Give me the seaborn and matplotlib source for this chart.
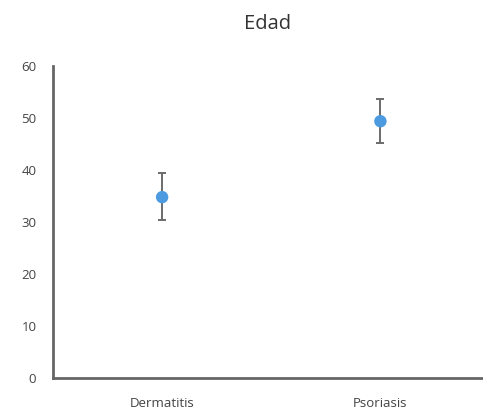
import numpy as np
import pandas as pd
import matplotlib.pyplot as plt
import seaborn as sns

grupos = ["Dermatitis", "Psoriasis"]
media = [34.8, 49.4]
err_sup = [4.6, 4.3]
err_inf = [4.4, 4.2]

sns.set_style("white")
plt.rcParams['font.family'] = ['Open Sans', 'DejaVu Sans']

df = pd.DataFrame({"grupo": grupos, "edad": media})

fig = plt.figure(figsize=(4.83, 4.12), dpi=100)
ax = fig.add_axes([0.1097, 0.0825, 0.8903, 0.757])

x = np.arange(len(grupos))
ax.errorbar(x, media, yerr=[err_inf, err_sup], fmt="none", ecolor="#6b6b6b",
            elinewidth=1.4, capsize=3, capthick=1.4, zorder=2)
sns.scatterplot(data=df, x="grupo", y="edad", color="#4C9BE0", s=80,
                edgecolor="none", ax=ax, zorder=3)

ax.set_xlim(-0.5, 1.47)
ax.set_ylim(0, 60)
ax.set_yticks(range(0, 61, 10))
ax.set_xlabel("")
ax.set_ylabel("")
ax.set_title("Edad", fontsize=14.5, color="#333333", pad=27)
ax.tick_params(axis="both", length=0, labelsize=9.5, colors="#444444")
ax.tick_params(axis="x", pad=14)
ax.tick_params(axis="y", pad=12)

sns.despine(ax=ax)
for s in ["left", "bottom"]:
    ax.spines[s].set_color("#666666")
    ax.spines[s].set_linewidth(2)

fig.savefig("out.png", dpi=100)
